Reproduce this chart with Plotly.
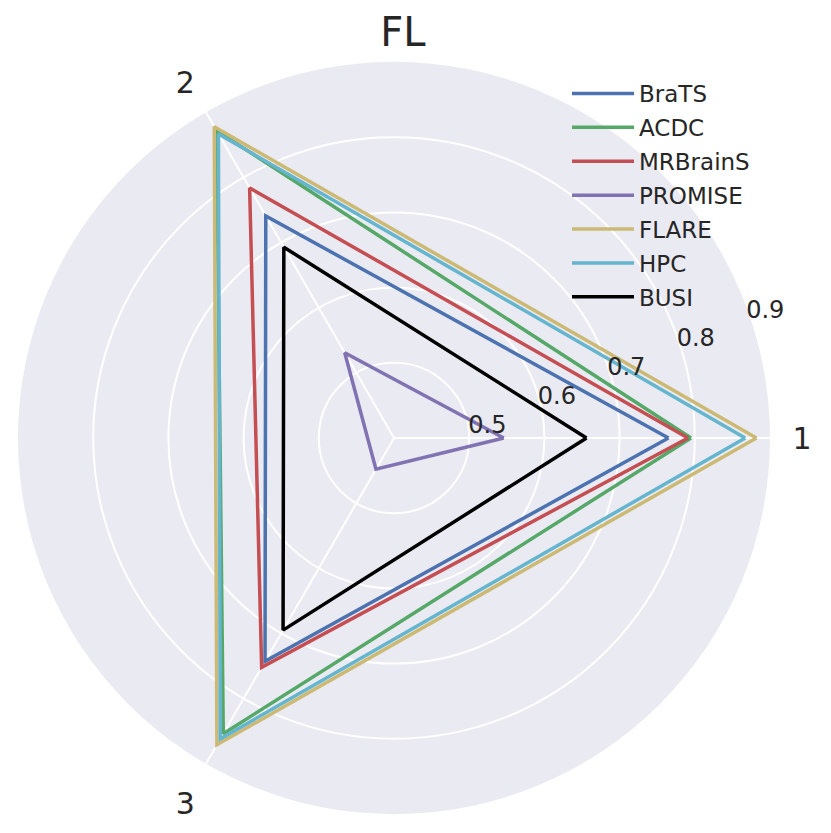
import plotly.graph_objects as go

axes_labels = ["1", "2", "3"]
series_names = ["BraTS", "ACDC", "MRBrainS", "PROMISE", "FLARE", "HPC", "BUSI"]
brats = [0.765, 0.741, 0.743]
acdc = [0.795, 0.872, 0.854]
mrbrains = [0.791, 0.784, 0.752]
promise = [0.546, 0.531, 0.448]
flare = [0.882, 0.878, 0.871]
hpc = [0.867, 0.867, 0.862]
busi = [0.656, 0.693, 0.695]
radial_ticks = [0.5, 0.6, 0.7, 0.8, 0.9]
radial_tick_labels = ["0.5", "0.6", "0.7", "0.8", "0.9"]

values = [brats, acdc, mrbrains, promise, flare, hpc, busi]
colors = ["#4C72B0", "#55A868", "#C44E52", "#8172B2", "#CCB974", "#64B5CD", "#000000"]

fig = go.Figure()
for name, vals, col in zip(series_names, values, colors):
    fig.add_trace(go.Scatterpolar(
        r=vals + vals[:1],
        theta=axes_labels + axes_labels[:1],
        mode="lines",
        name=name,
        legendgroup=name,
        line=dict(color=col, width=3.5),
    ))

W, H = 831, 833
cx, cy, R = 386, 430, 376
fig.update_layout(
    width=W, height=H,
    margin=dict(l=0, r=0, t=0, b=0),
    paper_bgcolor="white",
    font=dict(family="DejaVu Sans", color="#262626"),
    title=dict(text="FL", x=395 / W, xanchor="center", y=1 - 24 / H, yanchor="middle",
               font=dict(size=40, color="#262626")),
    polar=dict(
        domain=dict(x=[(cx - R) / W, (cx + R) / W], y=[1 - (cy + R) / H, 1 - (cy - R) / H]),
        bgcolor="#EAEAF2",
        radialaxis=dict(
            range=[0.4, 0.9],
            tickvals=radial_ticks,
            ticktext=radial_tick_labels,
            angle=22.5,
            tickangle=22.5,
            showline=False,
            ticks="",
            gridcolor="white",
            gridwidth=2,
            tickfont=dict(size=24, color="#262626"),
        ),
        angularaxis=dict(
            type="category",
            categoryarray=axes_labels,
            rotation=0,
            direction="counterclockwise",
            showline=False,
            gridcolor="white",
            gridwidth=2,
            ticks="outside",
            ticklen=16,
            tickcolor="rgba(0,0,0,0)",
            tickfont=dict(size=30, color="#262626"),
        ),
    ),
    legend=dict(
        x=559 / W, y=1 - 64 / H, xanchor="left", yanchor="top",
        bgcolor="rgba(0,0,0,0)",
        font=dict(size=23, color="#262626"),
        tracegroupgap=1,
        itemwidth=62,
    ),
)

fig.write_html("out.html")
